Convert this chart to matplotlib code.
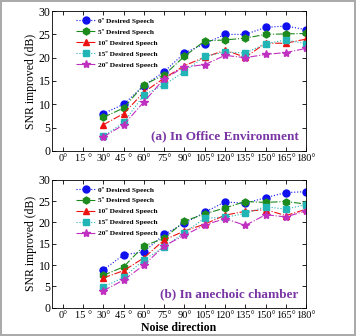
import matplotlib
matplotlib.use('Agg')
import matplotlib.pyplot as plt
import numpy as np

# Noise direction (degrees)
angles = [30, 45, 60, 75, 90, 105, 120, 135, 150, 165, 180]
xtick_vals = [0, 15, 30, 45, 60, 75, 90, 105, 120, 135, 150, 165, 180]
xtick_labels = ['0°', '15 °', '30°', '45 °', '60°', '75°', '90°',
                '105°', '120°', '135°', '150°', '165°', '180°']

series_names = ['0º Desired Speech', '5º Desired Speech', '10º Desired Speech',
                '15º Desired Speech', '20º Desired Speech']

# (a) office
office_0 = [8.0, 10.0, 14.0, 17.0, 21.0, 23.0, 25.0, 25.0, 26.5, 26.8, 26.0]
office_5 = [7.2, 9.2, 14.2, 16.3, 20.3, 23.6, 23.8, 24.2, 25.0, 25.1, 25.2]
office_10 = [5.6, 8.0, 12.6, 15.6, 18.3, 20.1, 21.6, 20.1, 23.1, 23.1, 24.0]
office_15 = [3.1, 6.1, 12.0, 14.2, 17.0, 20.3, 21.2, 21.0, 23.0, 23.8, 23.0]
office_20 = [3.0, 5.6, 10.5, 15.5, 18.0, 18.5, 20.5, 20.0, 20.7, 21.1, 22.0]

# (b) anechoic
anech_0 = [8.9, 12.4, 13.1, 17.2, 19.8, 22.4, 24.8, 24.5, 25.8, 27.0, 27.2]
anech_5 = [7.6, 9.6, 14.5, 16.3, 20.3, 22.0, 23.4, 24.9, 24.7, 24.9, 24.3]
anech_10 = [7.0, 8.7, 11.7, 15.9, 18.0, 19.6, 21.7, 22.6, 23.0, 21.6, 23.1]
anech_15 = [4.9, 7.1, 11.2, 14.3, 17.6, 21.0, 21.2, 22.1, 23.7, 23.1, 24.2]
anech_20 = [4.0, 6.5, 10.0, 14.5, 17.0, 19.4, 20.9, 19.3, 21.8, 21.3, 22.7]

colors = ['#1010ee', '#1d8a1d', '#ee1111', '#22b5b5', '#c030c0']
markers = ['o', 'h', '^', 's', '*']
styles = [':', '-.', '-.', ':', '-.']
msizes = [5, 5, 5, 4.5, 6]

plt.rcParams['font.family'] = ['Liberation Serif', 'DejaVu Serif']

fig = plt.figure(figsize=(3.56, 3.36), dpi=100)
fig.patch.set_edgecolor('#aaaaaa')
fig.patch.set_linewidth(1.5)


def draw_panel(ax, data, title):
    for i, vals in enumerate(data):
        ax.plot(angles, vals, linestyle=styles[i], color=colors[i], marker=markers[i],
                markersize=msizes[i], linewidth=0.8, label=series_names[i])
    ax.set_xlim(-8, 180)
    ax.set_ylim(0, 30)
    ax.set_xticks(xtick_vals)
    ax.set_xticklabels(xtick_labels, fontsize=7.5)
    ax.set_yticks([0, 5, 10, 15, 20, 25, 30])
    ax.tick_params(axis='y', labelsize=8.5, pad=1)
    ax.tick_params(axis='x', pad=2)
    ax.tick_params(direction='in', top=True, right=True, length=3, width=0.6)
    for s in ax.spines.values():
        s.set_linewidth(0.6)
    ax.set_ylabel('SNR improved (dB)', fontsize=8.5, labelpad=1)
    ax.legend(loc='upper left', frameon=False, prop={'size': 5.3, 'weight': 'bold'},
              handlelength=2.5, borderaxespad=0.5, labelspacing=0.65,
              handletextpad=0.5, bbox_to_anchor=(0.07, 1.0))
    ax.text(0.97, 0.06, title, transform=ax.transAxes, ha='right', va='bottom',
            fontsize=9.5, fontweight='bold', color='#7a35a5')


ax1 = fig.add_axes([0.146, 0.551, 0.714, 0.416])
draw_panel(ax1, [office_0, office_5, office_10, office_15, office_20],
           '(a) In Office Environment')

ax2 = fig.add_axes([0.146, 0.084, 0.714, 0.381])
draw_panel(ax2, [anech_0, anech_5, anech_10, anech_15, anech_20],
           '(b) In anechoic chamber')
ax2.set_xlabel('Noise direction', fontsize=8.5, fontweight='bold', labelpad=2)

fig.savefig('out.png', dpi=100)
